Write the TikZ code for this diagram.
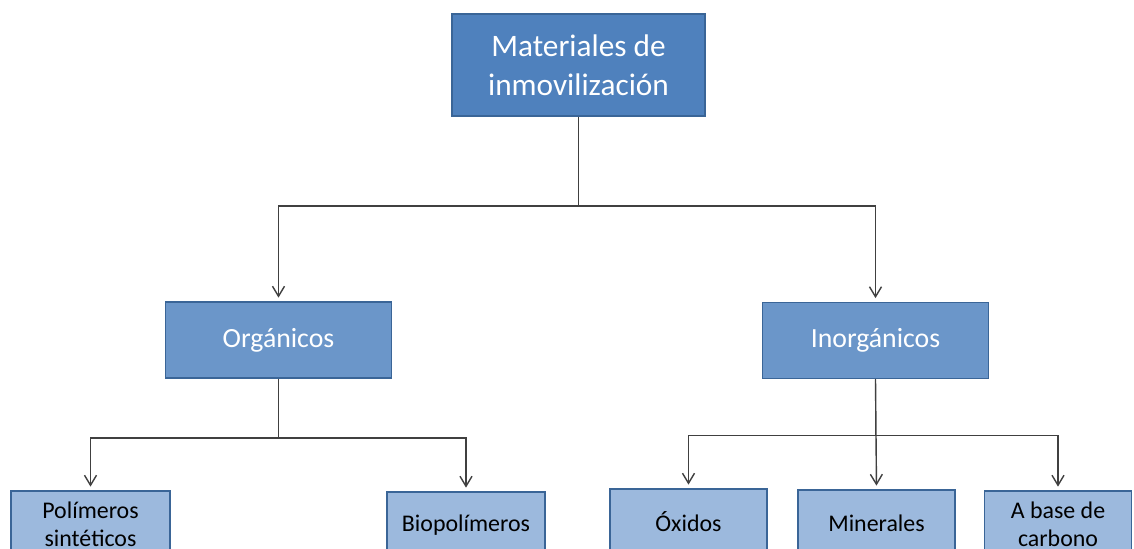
\documentclass[tikz,border=0pt]{standalone}
\usepackage{fontspec}
\setmainfont{Carlito}
\usepackage{tikz}
\usetikzlibrary{arrows.meta,positioning}
\definecolor{topblue}{HTML}{4F81BD}
\definecolor{midblue}{HTML}{6B96C9}
\definecolor{lowblue}{HTML}{9CB9DD}
\definecolor{edgeblue}{HTML}{3A6597}
\definecolor{wire}{HTML}{404040}

\begin{document}
\begin{tikzpicture}[>={Straight Barb[length=2mm,width=2.4mm]},
    every node/.style={inner sep=2pt},
    topbox/.style={draw=edgeblue, line width=1pt, fill=topblue, text=white, align=center,
          minimum width=5.06cm, minimum height=2.04cm, font=\fontsize{17.8}{22}\selectfont},
    midbox/.style={draw=edgeblue, line width=1pt, fill=midblue, text=white,
          minimum width=4.52cm, minimum height=1.52cm, font=\fontsize{15.8}{18}\selectfont},
    leafbox/.style={draw=edgeblue, line width=1pt, fill=lowblue, text=black, align=center,
          minimum height=1.32cm, font=\fontsize{13.6}{16}\selectfont},
    link/.style={->, draw=wire, line width=0.8pt, shorten >=2pt}]
    \useasboundingbox (0,0) rectangle (22.68,10.96);

    % Root of the classification
    \node[topbox] (mat) at (11.57,9.66) {Materiales de\\inmovilización};

    % Second level
    \node[midbox] (org) at (5.57,4.16) {Orgánicos};
    \node[midbox] (inorg) at (17.51,4.15) {Inorgánicos};

    % Leaves (cut by the lower page edge)
    \node[leafbox, minimum width=3.18cm] (sint) at (1.81,0.48) {Polímeros\\sintéticos};
    \node[leafbox, minimum width=3.16cm] (bio) at (9.32,0.46) {Biopolímeros};
    \node[leafbox, minimum width=3.14cm] (oxi) at (13.77,0.52) {Óxidos};
    \node[leafbox, minimum width=3.14cm] (mine) at (17.53,0.5) {Minerales};
    \node[leafbox, minimum width=2.94cm] (carb) at (21.16,0.48) {A base de\\carbono};

    % Branches from the root
    \draw[link] (mat.south) -- ++(0,-1.78) -| (org.north);
    \draw[link] (mat.south) -- ++(0,-1.78) -| (inorg.north);

    % Branches of the organic group
    \draw[link] (org.south) -- ++(0,-1.18) -| (sint.north);
    \draw[link] (org.south) -- ++(0,-1.18) -| (bio.north);

    % Branches of the inorganic group
    \draw[link] (inorg.south) -- ++(0,-1.12) -| (oxi.north);
    \draw[link] (inorg.south) -- (mine.north);
    \draw[link] (inorg.south) -- ++(0,-1.12) -| (carb.north);
\end{tikzpicture}
\end{document}
